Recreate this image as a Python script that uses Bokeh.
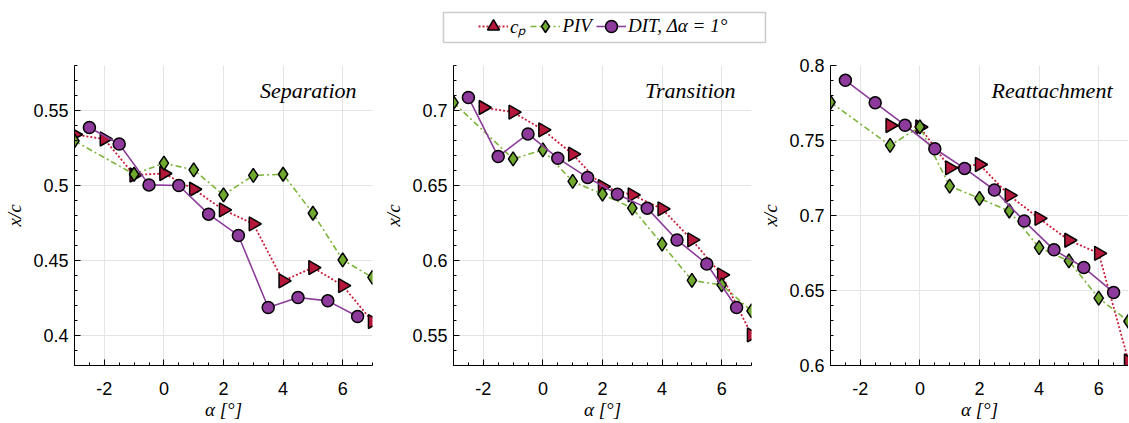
import numpy as np
from bokeh.plotting import figure
from bokeh.models import (Range1d, FixedTicker, Label, Legend, LegendItem,
                          BoxAnnotation)
from bokeh.layouts import column, row
from bokeh.embed import file_html
from bokeh.resources import INLINE

# ---------------- data ----------------
x_ticks = [-2, 0, 2, 4, 6]
x_tick_labels = ["-2", "0", "2", "4", "6"]

cp_alpha_sep = [-3, -2, -1, 0, 1, 2, 3, 4, 5, 6, 7]
cp_alpha_tra = [-2, -1, 0, 1, 2, 3, 4, 5, 6, 7]
cp_alpha_rea = [-1, 0, 1, 2, 3, 4, 5, 6, 7]
piv_alpha = [-3, -1, 0, 1, 2, 3, 4, 5, 6, 7]
dit_alpha = [-2.5, -1.5, -0.5, 0.5, 1.5, 2.5, 3.5, 4.5, 5.5, 6.5]

sep_cp = [0.534, 0.531, 0.507, 0.508, 0.4975, 0.4837, 0.4744, 0.4364, 0.4453, 0.4333, 0.4093]
sep_piv = [0.5297, 0.5075, 0.5149, 0.5104, 0.4937, 0.5067, 0.5075, 0.4815, 0.4504, 0.4387]
sep_dit = [0.5387, 0.5277, 0.5004, 0.5000, 0.4809, 0.4667, 0.4187, 0.4253, 0.4231, 0.4127]

tra_cp = [0.702, 0.6989, 0.6871, 0.6709, 0.6493, 0.6437, 0.6344, 0.6137, 0.5904, 0.5504]
tra_piv = [0.7053, 0.6677, 0.6737, 0.6527, 0.6442, 0.6349, 0.6109, 0.5867, 0.5837, 0.5664]
tra_dit = [0.7087, 0.6693, 0.6844, 0.6682, 0.6553, 0.6442, 0.6349, 0.6137, 0.5977, 0.5687]

rea_cp = [0.760, 0.759, 0.7318, 0.734, 0.7134, 0.6981, 0.6835, 0.6748, 0.603]
rea_piv = [0.7755, 0.7467, 0.7591, 0.7196, 0.7114, 0.703, 0.6786, 0.6697, 0.6449, 0.6295]
rea_dit = [0.7901, 0.7751, 0.7602, 0.7445, 0.7314, 0.717, 0.6963, 0.6771, 0.6653, 0.6487]

sep_yticks = [0.4, 0.45, 0.5, 0.55]
sep_ylabels = ["0.4", "0.45", "0.5", "0.55"]
tra_yticks = [0.55, 0.6, 0.65, 0.7]
tra_ylabels = ["0.55", "0.6", "0.65", "0.7"]
rea_yticks = [0.6, 0.65, 0.7, 0.75, 0.8]
rea_ylabels = ["0.6", "0.65", "0.7", "0.75", "0.8"]

titles = ["Separation", "Transition", "Reattachment"]
legend_labels = ["c\u209a", "PIV", "DIT, \u0394\u03b1 = 1\u00b0"]

# ---------------- style ----------------
RED_FILL, RED_LINE = "#b5173b", "#c8203c"
GRN_FILL, GRN_LINE = "#6fa82d", "#7db53c"
PUR_FILL, PUR_LINE = "#8e3a9c", "#8b3d99"
SERIF = "Liberation Serif"
SANS = "Liberation Sans"
F, FH = 298, 300
X_LO, X_HI = -3, 7

STYLE = {
    "cp": (dict(line_color=RED_LINE, line_width=1.8, line_dash="2 2"),
           dict(marker="triangle", angle=-np.pi / 2, size=14,
                fill_color=RED_FILL, line_color="black", line_width=1.5)),
    "piv": (dict(line_color=GRN_LINE, line_width=1.6, line_dash="6 3 2 3"),
            dict(marker="diamond", size=14,
                 fill_color=GRN_FILL, line_color="black", line_width=1.5)),
    "dit": (dict(line_color=PUR_LINE, line_width=1.6),
            dict(marker="circle", size=12,
                 fill_color=PUR_FILL, line_color="black", line_width=1.5)),
}


def add_series(p, xs, ys, kind):
    ls, ms = STYLE[kind]
    r_line = p.line(xs, ys, **ls)
    r_mark = p.scatter(xs, ys, **ms)
    return r_line, r_mark


def make_panel(title, cp_a, cp_v, piv_v, dit_v, ylo, yhi, yt, ylab, border_right):
    p = figure(frame_width=F, frame_height=FH,
               x_range=Range1d(X_LO, X_HI), y_range=Range1d(ylo, yhi),
               output_backend="svg", toolbar_location=None,
               min_border_left=74, min_border_right=border_right,
               min_border_top=17, min_border_bottom=58)
    p.outline_line_color = None
    p.xaxis.ticker = FixedTicker(ticks=x_ticks,
                                 minor_ticks=list(np.arange(X_LO, X_HI + 0.01, 0.5)))
    p.xaxis.major_label_overrides = dict(zip(x_ticks, x_tick_labels))
    p.yaxis.ticker = FixedTicker(ticks=yt,
                                 minor_ticks=list(np.round(np.arange(ylo, yhi + 1e-6, 0.01), 3)))
    p.yaxis.major_label_overrides = dict(zip(yt, ylab))
    for ax in (p.xaxis, p.yaxis):
        ax.axis_line_color = "black"
        ax.axis_line_width = 1
        ax.major_tick_in = 6
        ax.major_tick_out = 0
        ax.minor_tick_in = 3
        ax.minor_tick_out = 0
        ax.major_tick_line_color = "black"
        ax.minor_tick_line_color = "black"
        ax.major_label_text_font = SANS
        ax.major_label_text_font_size = "18px"
        ax.major_label_text_color = "black"
        ax.axis_label_text_font = SERIF
        ax.axis_label_text_font_style = "italic"
        ax.axis_label_text_font_size = "19px"
        ax.axis_label_text_color = "black"
    p.xaxis.axis_label = "\u03b1 [\u00b0]"
    p.yaxis.axis_label = "x/c"
    p.xaxis.major_label_standoff = 16
    p.xaxis.axis_label_standoff = 1
    p.yaxis.major_label_standoff = 6
    p.yaxis.axis_label_standoff = 5
    p.xgrid.ticker = FixedTicker(ticks=x_ticks)
    p.ygrid.ticker = FixedTicker(ticks=yt)
    p.grid.grid_line_color = "#e4e4e4"
    p.grid.grid_line_width = 1

    add_series(p, cp_a, cp_v, "cp")
    add_series(p, piv_alpha, piv_v, "piv")
    add_series(p, dit_alpha, dit_v, "dit")

    px_x = (X_HI - X_LO) / F
    px_y = (yhi - ylo) / FH
    p.add_layout(Label(x=X_HI - 16 * px_x, y=yhi - 25 * px_y, text=title,
                       text_align="right", text_baseline="middle",
                       text_font=SERIF, text_font_style="italic",
                       text_font_size="22px", text_color="black"))
    return p


p1 = make_panel(titles[0], cp_alpha_sep, sep_cp, sep_piv, sep_dit,
                0.38, 0.58, sep_yticks, sep_ylabels, 7)
p2 = make_panel(titles[1], cp_alpha_tra, tra_cp, tra_piv, tra_dit,
                0.53, 0.73, tra_yticks, tra_ylabels, 5)
p3 = make_panel(titles[2], cp_alpha_rea, rea_cp, rea_piv, rea_dit,
                0.60, 0.80, rea_yticks, rea_ylabels, 0)

# ---------------- legend strip ----------------
LW, LH = 1128, 48
leg = figure(width=LW, height=LH, x_range=Range1d(0, LW), y_range=Range1d(0, LH),
             output_backend="svg", toolbar_location=None, min_border=0,
             x_axis_location=None, y_axis_location=None)
leg.grid.visible = False
leg.outline_line_color = None
# legend-only renderers: a single anchor point kept outside the visible range
anchor_x, anchor_y = [-1000], [-1000]
leg_items = []
for lab, kind in zip(legend_labels, ["cp", "piv", "dit"]):
    rl, rm = add_series(leg, anchor_x, anchor_y, kind)
    leg_items.append(LegendItem(label=lab, renderers=[rl, rm]))
legend = Legend(items=leg_items,
                location=(478, 7), orientation="horizontal",
                padding=0, margin=0, spacing=4, label_standoff=2,
                glyph_width=30, glyph_height=30, label_height=20, label_width=0,
                border_line_alpha=0, background_fill_alpha=0,
                label_text_font=SERIF, label_text_font_style="italic",
                label_text_font_size="19px", label_text_color="black")
leg.add_layout(legend)
leg.add_layout(BoxAnnotation(left=443, right=765, bottom=6, top=36,
                             fill_alpha=0, line_color="#555555", line_width=1.5))

layout = column(leg, row(p1, p2, p3))
open("out.html", "w").write(file_html(layout, INLINE))
